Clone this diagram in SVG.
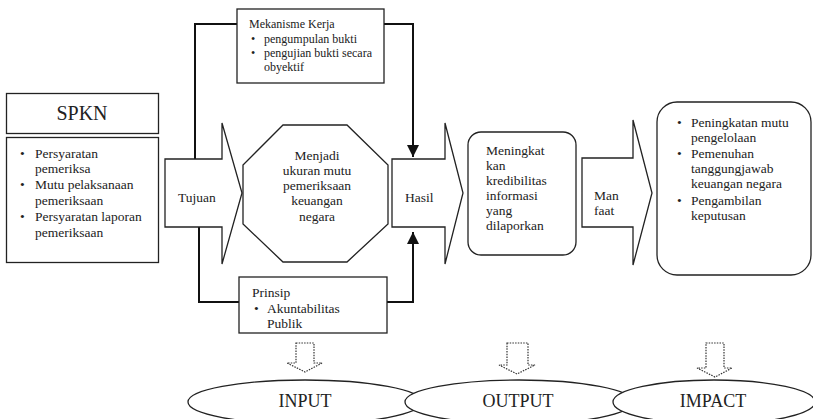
<svg xmlns="http://www.w3.org/2000/svg" width="813" height="419" viewBox="0 0 813 419" font-family="'Liberation Serif', 'DejaVu Serif', serif">
<defs>
<style>
text{font-family:'Liberation Serif','DejaVu Serif',serif;fill:#222;font-size:13.5px}
.sm{font-size:12px}
.big{font-size:20px}
.el{font-size:18px}
.shape{fill:#fff;stroke:#222;stroke-width:1.3}
.conn{fill:none;stroke:#111;stroke-width:2}
.dot{fill:#fff;stroke:#333;stroke-width:1.2;stroke-dasharray:1.5 1.2}
.c{text-anchor:middle}
</style>
<marker id="ah" viewBox="0 0 12 12" refX="12" refY="6" markerWidth="12" markerHeight="12" markerUnits="userSpaceOnUse" orient="auto">
<path d="M0,0 L12,6 L0,12 z" fill="#111"/>
</marker>
</defs>
<rect width="813" height="419" fill="#fff"/>

<g id="connectors">
<path class="conn" d="M195,159 V24 H413 V157" marker-end="url(#ah)"/>
<path class="conn" d="M199,227 V302 H413 V232" marker-end="url(#ah)"/>
</g>

<g id="spkn">
<rect class="shape" x="6.5" y="93.5" width="152" height="40"/>
<text class="big c" x="82" y="120">SPKN</text>
</g>
<g id="spkn-list">
<rect class="shape" x="6.5" y="137.5" width="152" height="125"/>
<text x="20" y="158">•</text><text x="35" y="158">Persyaratan</text>
<text x="35" y="173">pemeriksa</text>
<text x="20" y="189">•</text><text x="35" y="189">Mutu pelaksanaan</text>
<text x="35" y="205">pemeriksaan</text>
<text x="20" y="221">•</text><text x="35" y="221">Persyaratan laporan</text>
<text x="35" y="237">pemeriksaan</text>
</g>

<g id="tujuan">
<path class="shape" d="M165,159 H222 V123 L242,193 L222,264 V227 H165 Z"/>
<text x="178" y="202">Tujuan</text>
</g>

<g id="mekanisme">
<rect class="shape" x="237" y="9" width="147" height="74"/>
<text class="sm" x="249" y="28">Mekanisme Kerja</text>
<text class="sm" x="251" y="43">•</text><text class="sm" x="264" y="43">pengumpulan bukti</text>
<text class="sm" x="251" y="57">•</text><text class="sm" x="264" y="57">pengujian bukti secara</text>
<text class="sm" x="264" y="71">obyektif</text>
</g>

<g id="menjadi">
<path class="shape" d="M283,125 H347 L388,165 V224 L347,262 H283 L243,224 V165 Z"/>
<text class="c" x="317" y="160">Menjadi</text>
<text class="c" x="317" y="175">ukuran mutu</text>
<text class="c" x="317" y="190">pemeriksaan</text>
<text class="c" x="317" y="205">keuangan</text>
<text class="c" x="317" y="221">negara</text>
</g>

<g id="prinsip">
<rect class="shape" x="239" y="277" width="148" height="56"/>
<text x="252" y="297">Prinsip</text>
<text x="254" y="313">•</text><text x="267" y="313">Akuntabilitas</text>
<text x="267" y="328">Publik</text>
</g>

<g id="hasil">
<path class="shape" d="M392,159 H445 V123 L463,193 L445,264 V227 H392 Z"/>
<text x="405" y="202">Hasil</text>
</g>

<g id="meningkat">
<rect class="shape" x="468" y="132" width="108" height="123" rx="13"/>
<text x="486" y="155">Meningkat</text>
<text x="486" y="170">kan</text>
<text x="486" y="185">kredibilitas</text>
<text x="486" y="200">informasi</text>
<text x="486" y="215">yang</text>
<text x="486" y="230">dilaporkan</text>
</g>

<g id="manfaat">
<path class="shape" d="M582,158 H633 V120 L652,193 L633,265 V227 H582 Z"/>
<text x="594" y="200">Man</text>
<text x="594" y="215">faat</text>
</g>

<g id="impact-list">
<rect class="shape" x="657" y="102" width="154" height="173" rx="20"/>
<text x="677" y="127">•</text><text x="691" y="127">Peningkatan mutu</text>
<text x="691" y="142">pengelolaan</text>
<text x="677" y="158">•</text><text x="691" y="158">Pemenuhan</text>
<text x="691" y="173">tanggungjawab</text>
<text x="691" y="188">keuangan negara</text>
<text x="677" y="205">•</text><text x="691" y="205">Pengambilan</text>
<text x="691" y="220">keputusan</text>
</g>

<g id="arrow-input">
<path class="dot" d="M296,343 H314 V363 H322 L305,372 L287,363 H296 Z"/>
</g>
<g id="arrow-output">
<path class="dot" d="M507,343 H528 V365 H535 L517,374 L499,365 H507 Z"/>
</g>
<g id="arrow-impact">
<path class="dot" d="M706,343 H724 V368 H732 L715,377 L697,368 H706 Z"/>
</g>

<g id="input">
<ellipse class="shape" cx="305" cy="402" rx="117" ry="22"/>
<text class="el c" x="305" y="407">INPUT</text>
</g>
<g id="output">
<ellipse class="shape" cx="519" cy="402" rx="114" ry="22"/>
<text class="el c" x="518" y="407">OUTPUT</text>
</g>
<g id="impact">
<ellipse class="shape" cx="714" cy="402" rx="101" ry="22"/>
<text class="el c" x="713" y="407">IMPACT</text>
</g>
</svg>
